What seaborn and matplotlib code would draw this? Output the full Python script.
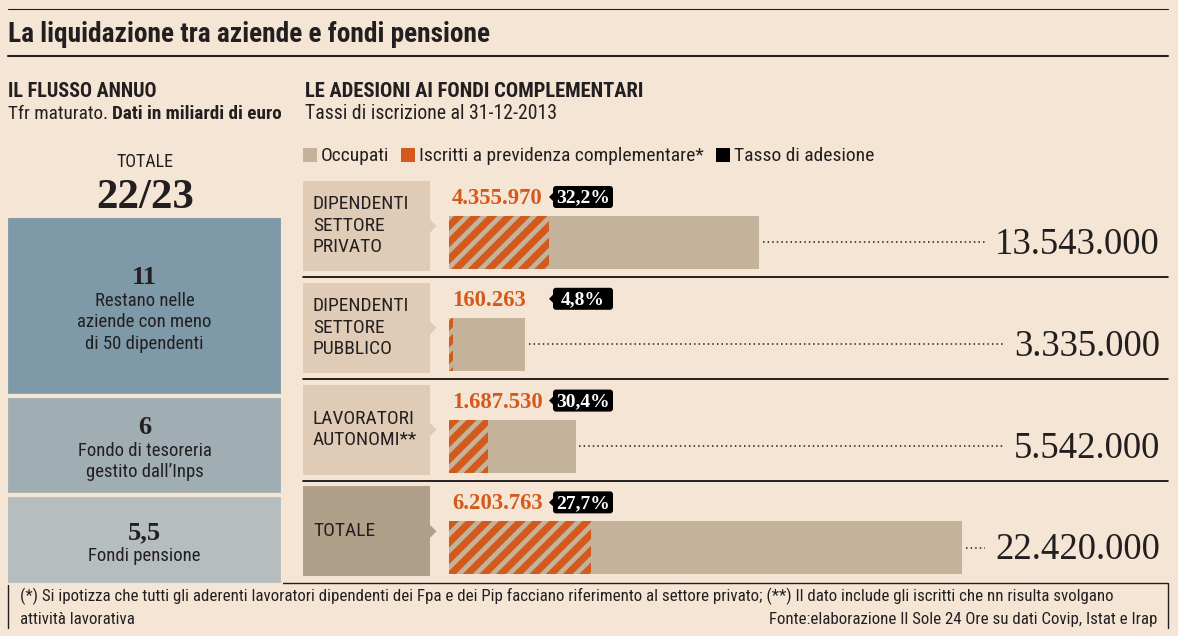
import matplotlib
matplotlib.use('Agg')
import matplotlib.pyplot as plt
import matplotlib.font_manager as fm
from matplotlib.patches import Rectangle, FancyBboxPatch, Polygon
import numpy as np
import pandas as pd
import seaborn as sns

# ── DATI ────────────────────────────────────────────────────
categorie = ['DIPENDENTI\nSETTORE\nPRIVATO', 'DIPENDENTI\nSETTORE\nPUBBLICO',
             'LAVORATORI\nAUTONOMI**', 'TOTALE']
occupati = [13543000, 3335000, 5542000, 22420000]
iscritti = [4355970, 160263, 1687530, 6203763]
tasso_adesione = [32.2, 4.8, 30.4, 27.7]

flusso_valori = [11, 6, 5.5]
flusso_etichette = ['Restano nelle\naziende con meno\ndi 50 dipendenti',
                    'Fondo di tesoreria\ngestito dall\u2019Inps',
                    'Fondi pensione']
flusso_totale = '22/23'

legenda = ['Occupati', 'Iscritti a previdenza complementare*', 'Tasso di adesione']

titolo = 'La liquidazione tra aziende e fondi pensione'
nota_1 = ('(*) Si ipotizza che tutti gli aderenti lavoratori dipendenti dei Fpa e dei Pip '
          'facciano riferimento al settore privato; (**) Il dato include gli iscritti che nn '
          'risulta svolgano')
nota_2 = 'attività lavorativa'
fonte = 'Fonte:elaborazione Il Sole 24 Ore su dati Covip, Istat e Irap'

# ── STILE ───────────────────────────────────────────────────
BG = '#f5e5d5'
TAN = '#c4b29a'
ORANGE = '#d35a1c'
LABEL_BOX = '#dfcbb6'
LABEL_TOT = '#b1a089'
LEFT_COLS = ['#7e99a7', '#a0aeb4', '#b5bdbe']
TXT = '#231f20'

sns.set_theme(style='white')
plt.rcParams['hatch.linewidth'] = 3.4

installed = {f.name for f in fm.fontManager.ttflist}
COND = next((f for f in ['Liberation Sans Narrow', 'Roboto Condensed',
                         'DejaVu Sans Condensed', 'Noto Sans Condensed']
             if f in installed), 'Roboto')
SANS = [COND, 'DejaVu Sans']
SERIF = ['Liberation Serif', 'DejaVu Serif']
plt.rcParams['font.family'] = SANS
plt.rcParams['text.color'] = TXT


def ita(n):
    return f'{n:,}'.replace(',', '.')


def pct(v):
    return f'{v:.1f}%'.replace('.', ',')


def num(v):
    return ('%g' % v).replace('.', ',')


W, H = 1178, 636
fig = plt.figure(figsize=(W / 100, H / 100), dpi=100, facecolor=BG)
canvas = fig.add_axes([0, 0, 1, 1])
canvas.set_xlim(0, W)
canvas.set_ylim(H, 0)
canvas.axis('off')
renderer = fig.canvas.get_renderer()


def box(l, t, r, b):
    return [l / W, 1 - b / H, (r - l) / W, (b - t) / H]


# ── INTESTAZIONE ────────────────────────────────────────────
canvas.plot([8, 1168], [9, 9], color=TXT, lw=0.8)
canvas.text(8, 42, titolo, fontsize=19.7, fontweight='bold', va='baseline')
canvas.plot([8, 1168], [55.5, 55.5], color=TXT, lw=1.5)

canvas.text(8, 97, 'IL FLUSSO ANNUO', fontsize=14.5, fontweight='bold', va='baseline')
t1 = canvas.text(8, 119, 'Tfr maturato.', fontsize=13.8, va='baseline')
canvas.annotate('Dati in miliardi di euro', xy=(1, 0), xycoords=t1, xytext=(4, 0),
                textcoords='offset pixels', fontsize=13.8, fontweight='bold', va='bottom')

canvas.text(305, 97, 'LE ADESIONI AI FONDI COMPLEMENTARI', fontsize=14.8,
            fontweight='bold', va='baseline')
canvas.text(305, 119, 'Tassi di iscrizione al 31-12-2013', fontsize=14.2, va='baseline')

# legenda
x = 303
for lab, col in zip(legenda, [TAN, ORANGE, 'black']):
    canvas.add_patch(Rectangle((x, 148), 14, 14, color=col, lw=0))
    t = canvas.text(x + 18, 161, lab, fontsize=14, va='baseline')
    x = t.get_window_extent(renderer).x1 + 12

# ── PANNELLO SINISTRO: flusso annuo ─────────────────────────
canvas.text(145, 167, 'TOTALE', fontsize=13, ha='center', va='baseline')
canvas.text(145, 208, flusso_totale, family=SERIF, fontsize=31, fontweight='bold',
            ha='center', va='baseline')

axl = fig.add_axes(box(6, 216, 283, 585))
tops = np.cumsum([0] + flusso_valori[:-1])
axl.bar([0] * len(flusso_valori), flusso_valori, bottom=tops, width=1,
        color=LEFT_COLS, edgecolor=BG, lw=3)
axl.set_xlim(-0.5, 0.5)
axl.set_ylim(sum(flusso_valori), 0)
axl.axis('off')
for v, lab, b in zip(flusso_valori, flusso_etichette, tops):
    n = lab.count('\n') + 1
    yc = b + v / 2
    axl.annotate(lab, (0, yc), xytext=(0, -16), textcoords='offset pixels',
                 ha='center', va='center', fontsize=13.5, linespacing=1.24)
    axl.annotate(num(v), (0, yc), xytext=(0, n * 10.75 - 3.5), textcoords='offset pixels',
                 ha='center', va='center', family=SERIF, fontsize=19, fontweight='bold')

# ── PANNELLO DESTRO: adesioni ───────────────────────────────
ax = fig.add_axes(box(449, 175, 1168, 583))
df = pd.DataFrame({'categoria': categorie, 'occupati': occupati, 'iscritti': iscritti})
sns.barplot(data=df, x='occupati', y='categoria', orient='h', color=TAN,
            saturation=1, width=0.52, ax=ax, linewidth=0)
sns.barplot(data=df, x='iscritti', y='categoria', orient='h', color=ORANGE,
            saturation=1, width=0.52, ax=ax, linewidth=0, hatch='//', edgecolor=TAN)
for p in ax.patches[len(categorie):]:
    p.set_hatch('//')
    p.set_edgecolor(TAN)
    p.set_linewidth(0)
ax.set_xlim(0, 719 / 22.9 * 1e6)
ax.set_ylim(3.345, -0.663)
ax.axis('off')
ax.patch.set_alpha(0)


def row_y(i):
    return H - ax.transData.transform((0, i))[1]


big = []
for i, cat in enumerate(categorie):
    yc = row_y(i)
    col = LABEL_TOT if i == len(categorie) - 1 else LABEL_BOX
    canvas.add_patch(Rectangle((303, yc - 61.5), 127, 90, color=col, lw=0))
    canvas.add_patch(Polygon([(430, yc - 23), (436.5, yc - 16.5), (430, yc - 10)],
                             closed=True, color=col, lw=0))
    canvas.text(313, yc - 16.5, cat, ha='left', va='center', fontsize=14,
                linespacing=1.25)

    canvas.text(452, yc - 38.5, ita(iscritti[i]), family=SERIF,
                fontweight='bold', fontsize=16.4, color=ORANGE, va='baseline')

    canvas.add_patch(FancyBboxPatch((553, yc - 56.5), 60, 22,
                                    boxstyle='round,pad=0,rounding_size=3',
                                    fc='black', lw=0))
    canvas.add_patch(Polygon([(553, yc - 49.5), (549, yc - 45.5), (553, yc - 41.5)],
                             closed=True, color='black', lw=0))
    canvas.text(583, yc - 40, pct(tasso_adesione[i]), color='white', family=SERIF,
                fontweight='bold', fontsize=14, ha='center', va='baseline')

    big.append(canvas.text(1160, yc + 11.5, ita(occupati[i]), family=SERIF,
                           fontsize=26.5, ha='right', va='baseline'))

    if i < len(categorie) - 1:
        ysep = (yc + row_y(i + 1)) / 2 - 16
        canvas.plot([303, 1168], [ysep, ysep], color='black', lw=1.2)

# linee puntinate fino al numero
for i, t in enumerate(big):
    x_end_px = t.get_window_extent(renderer).x0 - 10
    x_end = ax.transData.inverted().transform((x_end_px, 0))[0]
    ax.hlines(i, occupati[i] + 0.15e6, x_end, colors=TXT, linestyles=(0, (1, 2)), lw=1.1)

# ── NOTE ────────────────────────────────────────────────────
canvas.plot([8, 8, 1168, 1168], [628, 583, 583, 628], color=TXT, lw=1)
canvas.text(20, 601, nota_1, fontsize=12.15, va='baseline')
canvas.text(20, 624, nota_2, fontsize=12.15, va='baseline')
canvas.text(1157, 624, fonte, fontsize=12.15, ha='right', va='baseline')

fig.savefig('out.png', dpi=100, facecolor=BG)
